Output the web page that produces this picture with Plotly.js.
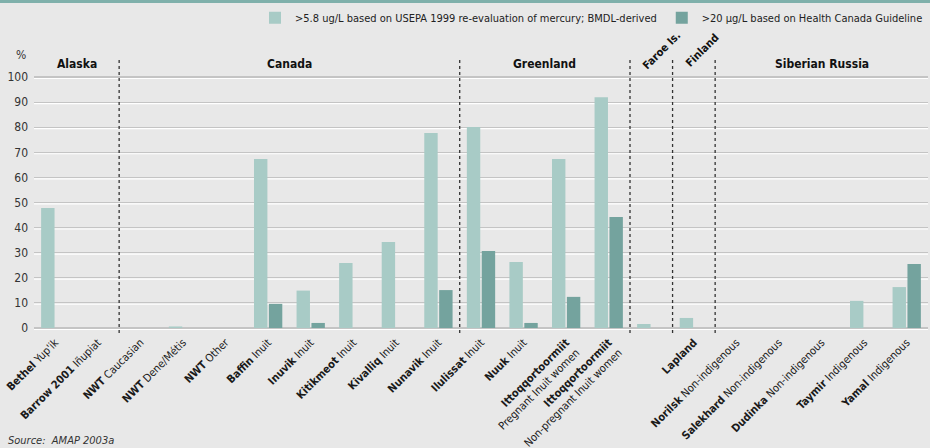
<!DOCTYPE html>
<html>
<head>
<meta charset="utf-8">
<script src="https://cdn.plot.ly/plotly-3.0.1.min.js"></script>
<style>
html,body{margin:0;padding:0;background:#e8e8e8;}
#chart{width:930px;height:448px;}
</style>
</head>
<body>
<div id="chart"></div>
<script>
// ---- data ----
const categories = [
  "Bethel Yup'ik", "Barrow 2001 Iñupiat", "NWT Caucasian", "NWT Dene/Métis", "NWT Other",
  "Baffin Inuit", "Inuvik Inuit", "Kitikmeot Inuit", "Kivalliq Inuit", "Nunavik Inuit",
  "Ilulissat Inuit", "Nuuk Inuit", "Ittoqqortoormiit Pregnant Inuit women",
  "Ittoqqortoormiit Non-pregnant Inuit women", "Faroe Is.", "Lapland",
  "Norilsk Non-indigenous", "Salekhard Non-indigenous", "Dudinka Non-indigenous",
  "Taymir Indigenous", "Yamal Indigenous"
];
const tickLabels = [
  "<b>Bethel</b> Yup'ik", "<b>Barrow 2001</b> Iñupiat", "<b>NWT</b> Caucasian", "<b>NWT</b> Dene/Métis", "<b>NWT</b> Other",
  "<b>Baffin</b> Inuit", "<b>Inuvik</b> Inuit", "<b>Kitikmeot</b> Inuit", "<b>Kivalliq</b> Inuit", "<b>Nunavik</b> Inuit",
  "<b>Ilulissat</b> Inuit", "<b>Nuuk</b> Inuit", "<b>Ittoqqortoormiit</b><br>Pregnant Inuit women",
  "<b>Ittoqqortoormiit</b><br>Non-pregnant Inuit women", "", "<b>Lapland</b>",
  "<b>Norilsk</b> Non-indigenous", "<b>Salekhard</b> Non-indigenous", "<b>Dudinka</b> Non-indigenous",
  "<b>Taymir</b> Indigenous", "<b>Yamal</b> Indigenous"
];
const usepaValues = [47.8, 0, 0, 0.6, 0, 67.3, 14.9, 25.9, 34.3, 77.7, 80.1, 26.3, 67.3, 92.0, 1.6, 4.0, 0, 0, 0, 10.8, 16.3];
const healthCanadaValues = [0, 0, 0, 0, 0, 9.6, 2.0, 0, 0, 15.1, 30.7, 2.0, 12.4, 44.2, 0, 0, 0, 0, 0, 0, 25.5];
const seriesNames = [">5.8 ug/L based on USEPA 1999 re-evaluation of mercury; BMDL-derived",
                     ">20 µg/L based on Health Canada Guideline"];
const regions = ["Alaska", "Canada", "Greenland", "Siberian Russia"];
const regionCenters = [0.5, 5.5, 11.5, 18];
const smallRegions = ["Faroe Is.", "Finland"];
const smallRegionPos = [14.25, 15.2];
const dividers = [1.5, 9.5, 13.5, 14.5, 15.5];
const yTicks = [0, 10, 20, 30, 40, 50, 60, 70, 80, 90, 100];

const FONT = "'DejaVu Sans Condensed', 'Liberation Sans Narrow', sans-serif";

const traces = [
  {type: 'bar', x: categories, y: usepaValues, name: seriesNames[0],
   marker: {color: '#a8cbc6'}},
  {type: 'bar', x: categories, y: healthCanadaValues, name: seriesNames[1],
   marker: {color: '#74a39e'}}
];

const shapes = [];
// white highlight lines under grid lines
yTicks.forEach(v => shapes.push({type: 'line', xref: 'paper', x0: 0, x1: 1, yref: 'y', y0: v - 0.55, y1: v - 0.55,
  line: {color: '#ffffff', width: 1.2}, layer: 'below'}));
// dotted dividers
dividers.forEach(d => shapes.push({type: 'line', xref: 'x', x0: d, x1: d, yref: 'paper', y0: 0, y1: 1,
  line: {color: '#333333', width: 1.3, dash: 'dot'}, layer: 'above'}));
// top band
shapes.push({type: 'rect', xref: 'paper', yref: 'paper', x0: -0.05, x1: 1.05, y0: 1.1957, y1: 1.25,
  fillcolor: '#7fb0ab', line: {width: 0}});

const annotations = [];
regions.forEach((r, i) => annotations.push({text: '<b>' + r + '</b>', x: regionCenters[i], xref: 'x',
  y: 105.2, yref: 'y', xanchor: 'center', yanchor: 'middle', showarrow: false,
  font: {family: FONT, size: 12, color: '#111'}}));
smallRegions.forEach((r, i) => annotations.push({text: '<b>' + r + '</b>', x: smallRegionPos[i], xref: 'x',
  y: 1.022, yref: 'paper', xanchor: 'center', yanchor: 'middle', textangle: -45, showarrow: false,
  font: {family: FONT, size: 11, color: '#111'}}));
annotations.push({text: '%', xref: 'paper', x: -0.0145, yref: 'paper', y: 1.007, xanchor: 'center', yanchor: 'middle',
  showarrow: false, font: {family: FONT, size: 12, color: '#333'}});
annotations.push({text: '<i>Source:&nbsp; AMAP 2003a</i>', xref: 'paper', x: -0.0313, xanchor: 'left',
  yref: 'paper', y: -0.391, yanchor: 'middle', showarrow: false, font: {family: FONT, size: 11, color: '#333'}});

const layout = {
  width: 930, height: 448,
  margin: {l: 34, r: 2, t: 57, b: 115},
  paper_bgcolor: '#e8e8e8', plot_bgcolor: '#e8e8e8',
  font: {family: FONT, size: 11, color: '#222'},
  barmode: 'group', bargap: 0.3, bargroupgap: 0.1,
  showlegend: true,
  legend: {orientation: 'h', x: 1, xanchor: 'right', y: 1.142, yanchor: 'middle',
           font: {family: FONT, size: 11, color: '#222'}, bgcolor: 'rgba(0,0,0,0)',
           traceorder: 'normal'},
  xaxis: {type: 'category', range: [-0.5, 20.5], tickmode: 'array', tickvals: categories, ticktext: tickLabels,
          tickangle: -45, showgrid: false, zeroline: false, showline: false, ticks: '',
          tickfont: {family: FONT, size: 11, color: '#1a1a1a'}, fixedrange: true},
  yaxis: {range: [-2, 108], tickmode: 'array', tickvals: yTicks, showgrid: true, gridcolor: '#c4c4c4', gridwidth: 1.2,
          zeroline: false, showline: false, ticks: '', ticklabelstandoff: 5,
          tickfont: {family: FONT, size: 12, color: '#333'}, fixedrange: true},
  shapes: shapes,
  annotations: annotations,
  hovermode: false
};

Plotly.newPlot('chart', traces, layout, {displayModeBar: false, staticPlot: true});
</script>
</body>
</html>
